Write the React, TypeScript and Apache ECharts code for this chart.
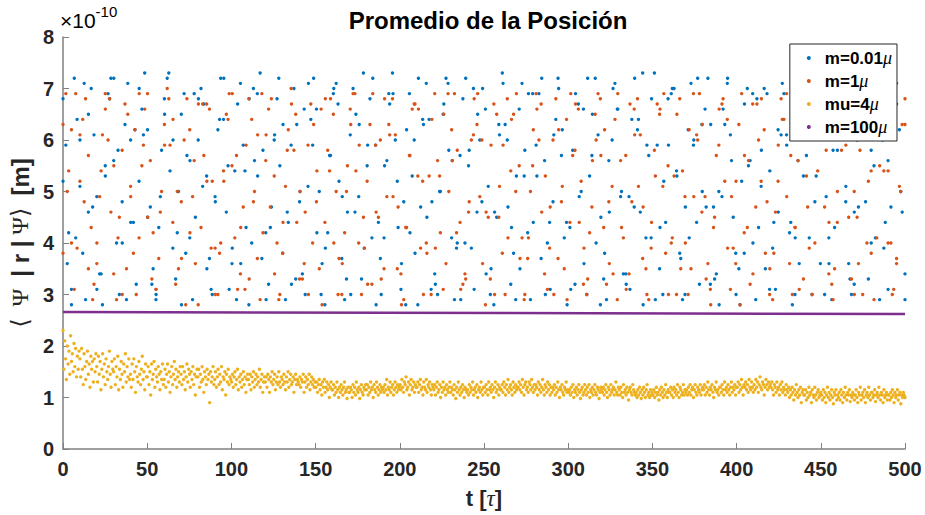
import React, { useEffect, useRef } from "react";
import * as echarts from "echarts";

const T_MAX = 500;
const X_TICKS = [0, 50, 100, 150, 200, 250, 300, 350, 400, 450, 500];
const Y_TICKS = [0, 1, 2, 3, 4, 5, 6, 7, 8];
const SERIES_NAMES = ["m=0.01μ", "m=1μ", "mu=4μ", "m=100μ"];
const COLORS = ["#0072BD", "#D95319", "#EDB120", "#7E2F8E"];

// values in units of 1e-10 m (two samplings per series, each spanning t = 0..500)
const blueVals = [
  6.8,5.9,4.2,3.1,7.2,6.4,5.1,3.8,2.9,4.6,7.0,6.1,4.9,3.4,2.8,5.5,6.9,7.2,5.6,4.0,
  3.0,4.8,6.3,7.1,6.0,4.4,3.2,5.2,6.6,7.3,6.2,4.7,3.5,2.9,4.3,5.8,6.8,7.2,5.4,3.9,
  3.3,5.0,6.5,6.9,5.7,4.1,2.9,4.5,6.0,7.0,6.7,5.3,3.7,3.0,4.9,6.2,7.2,6.4,4.6,3.1,
  3.6,5.4,6.7,7.1,5.9,4.3,2.8,4.0,5.6,6.9,7.3,5.8,4.2,3.2,4.7,6.0,6.8,5.5,3.8,2.9,
  4.4,5.9,7.0,6.3,4.8,3.4,3.0,5.1,6.4,7.2,6.6,5.0,3.6,2.8,4.2,5.7,6.9,7.1,5.2,3.7,
  2.9,4.6,6.1,7.0,6.5,4.9,3.3,3.9,5.5,6.8,7.2,5.9,4.4,3.0,4.1,5.6,6.7,7.3,6.0,4.3,
  3.1,4.8,6.2,6.9,5.3,3.8,2.8,4.7,6.3,7.1,6.4,4.8,3.4,3.0,5.0,6.5,7.2,5.8,4.1,2.9,
  4.0,5.7,6.8,7.2,5.5,3.9,3.1,4.6,6.0,7.0,6.6,5.1,3.5,2.8,4.5,6.1,7.3,6.3,4.7,3.2,
  3.8,5.3,6.6,7.1,5.8,4.2,2.9,4.4,5.9,6.9,7.2,5.6,4.0,3.1,4.8,6.4,7.0,5.7,4.1,2.8,
  4.3,5.8,6.9,6.7,5.0,3.6,3.0,5.3,6.5,7.2,6.1,4.5,3.3,2.9,4.6,6.0,7.1,6.6,4.9,3.4,
  3.2,4.9,6.4,7.2,6.2,4.6,2.8,4.1,5.7,6.8,7.3,5.9,4.3,3.0,4.4,5.9,6.9,7.0,5.3,3.8,
  2.9,4.7,6.2,7.1,6.0,4.4,3.2,5.0,6.6,7.2,6.3,4.7,3.4,2.8,4.9,6.3,7.2,6.1,4.5,3.0,
  3.5,5.2,6.7,7.0,5.6,4.0,2.9,4.3,5.8,7.0,6.9,5.4,3.9,3.1,4.6,6.1,6.9,5.9,4.2,2.8,
  4.1,5.6,6.8,7.2,5.7,4.1,3.0,4.8,6.2,7.1,6.5,4.9,3.6,2.9,4.3,5.8,7.0,6.7,5.1,3.6,
  3.0,4.6,6.0,6.9,6.4,4.8,3.3,4.0,5.5,6.7,7.2,6.0,4.4,3.1,4.7,6.2,7.1,6.2,4.6,2.9,
];

const blueVals2 = [
  5.2,3.6,2.8,4.1,6.0,7.1,6.5,4.7,3.1,3.4,5.3,6.8,7.2,5.8,4.0,2.9,4.4,6.2,7.0,6.1,
  4.5,3.2,3.0,4.9,6.5,7.3,6.0,4.2,2.8,3.8,5.6,6.9,6.8,5.1,3.5,3.1,4.8,6.4,7.2,5.5,
  3.9,2.9,3.6,5.4,6.8,7.0,5.3,3.7,2.9,4.3,6.1,7.2,6.3,4.6,3.2,3.3,5.0,6.6,7.1,5.9,
  4.2,3.0,3.9,5.7,7.0,6.7,4.9,3.3,3.0,4.6,6.3,7.3,5.9,4.1,2.8,3.7,5.5,6.9,6.9,5.2,
  3.6,2.8,4.2,6.0,7.2,6.4,4.5,3.1,3.2,5.0,6.7,7.1,5.6,3.9,2.9,4.0,5.8,7.0,6.5,4.8,
  3.4,3.0,4.6,6.3,7.1,6.0,4.3,2.9,3.5,5.3,6.9,6.9,5.3,3.7,3.0,4.4,6.1,7.2,6.2,4.4,
  3.1,3.2,4.9,6.6,7.2,5.7,4.0,2.8,3.8,5.6,7.0,6.6,5.0,3.4,3.1,4.7,6.4,7.3,5.9,4.1,
  2.9,3.5,5.2,6.8,7.0,5.4,3.7,3.0,4.1,5.9,7.2,6.3,4.7,3.2,3.3,5.0,6.6,7.1,5.6,3.8,
  2.8,3.8,5.5,6.9,6.8,5.1,3.5,3.1,4.4,6.2,7.1,6.1,4.4,3.0,3.6,5.3,6.8,6.9,5.3,3.6,
  3.0,4.1,5.8,7.1,6.5,4.8,3.3,3.2,4.7,6.4,7.2,5.8,4.1,2.9,3.9,5.6,7.0,6.7,5.0,3.4,
];

const orangeVals = [
  6.3,6.9,5.4,4.0,3.1,3.9,5.2,6.4,6.8,5.7,4.3,3.2,3.6,4.9,6.1,6.9,6.0,4.6,3.4,2.9,
  4.5,5.8,6.7,6.5,5.1,3.8,3.0,4.1,5.5,6.6,6.9,5.6,4.2,3.1,3.7,5.0,6.3,7.0,5.9,4.4,
  3.2,3.5,4.8,6.0,6.8,6.2,4.9,3.6,2.8,4.3,5.7,6.7,6.6,5.2,3.9,3.0,4.0,5.4,6.5,6.9,
  5.5,4.1,3.1,3.4,4.7,5.9,6.8,6.4,5.0,3.7,2.9,4.2,5.6,6.6,6.8,5.3,4.0,3.0,3.8,5.1,
  6.2,7.0,5.8,4.4,3.3,3.3,4.6,5.9,6.7,6.3,4.8,3.5,2.8,4.4,5.8,6.8,6.5,5.0,3.7,3.0,
  4.2,5.5,6.6,6.9,5.4,4.0,3.0,3.9,5.2,6.3,6.9,5.9,4.5,3.3,3.5,4.9,6.1,6.8,6.1,4.7,
  3.4,2.9,4.3,5.7,6.6,6.7,5.3,3.9,3.0,4.0,5.3,6.4,6.9,5.6,4.2,3.1,3.6,5.0,6.2,6.9,
  5.8,4.4,3.2,3.3,4.6,6.0,6.8,6.3,4.9,3.6,2.8,4.5,5.9,6.7,6.5,5.1,3.8,3.0,4.1,5.4,
  6.5,6.9,5.5,4.1,3.0,3.7,5.0,6.2,6.9,6.0,4.6,3.4,3.1,4.7,6.0,6.8,6.2,4.8,3.5,2.9,
  4.4,5.7,6.7,6.6,5.2,3.9,3.0,4.2,5.6,6.5,6.9,5.7,4.3,3.2,3.6,5.1,6.4,6.9,5.6,4.1,
  3.1,3.4,4.8,6.1,6.8,6.1,4.7,3.5,2.9,4.4,5.8,6.7,6.6,5.1,3.8,3.0,4.0,5.3,6.5,6.8,
  5.4,4.0,3.0,3.5,4.9,6.1,6.9,6.3,4.9,3.6,2.8,4.3,5.7,6.6,6.7,5.2,3.9,3.1,3.9,5.2,
  6.3,6.9,5.7,4.3,3.2,3.4,4.7,6.0,6.8,6.2,4.8,3.5,2.9,4.6,5.9,6.8,6.4,4.9,3.6,3.0,
  4.3,5.6,6.6,6.8,5.3,3.9,3.0,4.0,5.4,6.4,6.9,5.8,4.4,3.2,3.5,5.0,6.2,6.9,5.9,4.5,
  3.3,3.0,4.5,5.8,6.7,6.6,5.2,3.8,2.9,4.1,5.5,6.6,6.8,5.4,4.0,3.1,3.7,5.1,6.3,6.8,
];

const orangeVals2 = [
  3.8,5.0,6.2,6.9,6.1,4.8,3.5,2.9,4.0,5.4,6.6,6.8,5.5,4.1,3.0,3.5,4.9,6.2,6.9,5.9,
  4.5,3.3,3.1,4.6,5.9,6.8,6.4,5.0,3.7,2.8,4.2,5.6,6.7,6.7,5.2,3.9,3.0,3.8,5.2,6.4,
  6.9,5.7,4.3,3.1,3.3,4.8,6.1,6.9,6.1,4.7,3.4,2.9,4.4,5.8,6.7,6.5,5.0,3.6,3.0,4.0,
  5.4,6.6,6.8,5.4,4.0,3.0,3.6,5.0,6.3,6.9,5.9,4.5,3.2,3.2,4.6,6.0,6.8,6.3,4.9,3.5,
  2.8,4.3,5.7,6.7,6.6,5.2,3.8,3.0,3.9,5.3,6.5,6.9,5.6,4.2,3.1,3.4,4.8,6.1,6.9,6.0,
  4.6,3.3,3.0,4.5,5.9,6.8,6.4,5.0,3.7,2.9,4.1,5.5,6.6,6.7,5.3,3.9,3.0,3.7,5.1,6.4,
  6.9,5.8,4.4,3.2,3.3,4.7,6.0,6.8,6.2,4.8,3.4,2.9,4.3,5.7,6.7,6.6,5.1,3.7,3.0,3.9,
  5.3,6.5,6.9,5.5,4.1,3.0,3.5,4.9,6.2,6.9,6.0,4.6,3.3,3.1,4.5,5.9,6.8,6.4,4.9,3.6,
  2.8,4.2,5.6,6.7,6.7,5.2,3.8,3.0,3.8,5.2,6.4,6.9,5.7,4.3,3.1,3.3,4.7,6.1,6.9,6.1,
  4.7,3.4,2.9,4.4,5.8,6.7,6.5,5.0,3.6,3.0,4.0,5.4,6.6,6.8,5.4,4.0,3.0,3.6,5.0,6.3,
];

const yellowVals = [
  2.30,1.55,2.10,1.75,1.35,2.00,1.65,1.90,1.45,2.20,1.70,1.85,1.50,2.05,1.60,1.95,1.40,1.80,1.55,1.90,
  1.75,1.40,1.95,1.55,1.25,1.85,1.60,1.35,1.70,1.90,1.45,1.65,1.20,1.80,1.55,1.70,1.30,1.75,1.50,1.85,
  1.60,1.30,1.80,1.45,1.70,1.15,1.55,1.85,1.40,1.65,1.25,1.75,1.50,1.35,1.60,1.90,1.45,1.20,1.70,1.55,
  1.50,1.75,1.25,1.60,1.40,1.80,1.15,1.55,1.35,1.70,1.45,1.20,1.65,1.50,1.85,1.30,1.60,1.40,1.75,1.35,
  1.45,1.20,1.65,1.35,1.75,1.50,1.10,1.60,1.40,1.30,1.70,1.45,1.25,1.55,1.80,1.35,1.50,1.15,1.65,1.40,
  1.40,1.60,1.25,1.50,1.05,1.65,1.35,1.45,1.70,1.20,1.55,1.40,1.30,1.60,1.45,1.15,1.50,1.35,1.65,1.25,
  1.35,1.55,1.20,1.45,1.65,1.30,1.50,1.10,1.40,1.60,1.25,1.45,1.70,1.35,1.55,1.20,1.40,1.50,1.30,1.60,
  1.45,1.25,1.60,1.35,1.50,1.15,1.40,1.65,1.30,1.55,1.45,1.20,1.50,1.35,1.60,1.25,1.45,1.05,1.40,1.55,
  1.40,1.55,1.20,1.45,1.30,1.60,1.35,1.10,1.50,1.40,1.25,1.55,1.35,1.45,0.90,1.50,1.30,1.40,1.60,1.25,
  1.35,1.50,1.20,1.40,1.55,1.25,1.45,1.30,1.60,1.15,1.40,1.35,1.50,1.05,1.45,1.30,1.55,1.25,1.40,1.35,
  1.30,1.45,1.20,1.40,1.50,1.25,1.35,1.55,1.15,1.40,1.30,1.45,1.20,1.35,1.50,1.25,1.40,1.10,1.35,1.45,
  1.35,1.25,1.45,1.15,1.40,1.30,1.50,1.20,1.35,1.45,1.25,1.40,1.30,1.55,1.20,1.35,1.45,1.10,1.30,1.40,
  1.30,1.40,1.20,1.45,1.35,1.10,1.40,1.30,1.50,1.25,1.35,1.45,1.15,1.30,1.40,1.25,1.50,1.30,1.20,1.40,
  1.35,1.25,1.45,1.30,1.15,1.40,1.30,1.50,1.20,1.35,1.45,1.25,1.30,1.40,1.10,1.35,1.45,1.25,1.35,1.30,
  1.25,1.40,1.20,1.35,1.30,1.45,1.10,1.30,1.40,1.20,1.35,1.25,1.45,1.15,1.30,1.40,1.25,1.35,1.20,1.30,
  1.20,1.30,1.10,1.25,1.35,1.15,1.25,1.05,1.30,1.20,1.35,1.10,1.20,1.30,1.15,1.25,1.00,1.20,1.30,1.15,
  1.15,1.25,1.05,1.20,1.10,1.30,1.15,1.00,1.20,1.10,1.25,1.15,1.05,1.20,1.30,1.10,1.15,0.98,1.20,1.10,
  1.10,1.20,1.15,1.00,1.25,1.10,1.20,1.05,1.30,1.15,1.10,1.20,0.98,1.15,1.25,1.10,1.05,1.20,1.15,1.25,
  1.15,1.25,1.05,1.20,1.10,1.30,1.15,1.20,1.00,1.25,1.15,1.10,1.30,1.20,1.05,1.15,1.25,1.10,1.20,1.15,
  1.20,1.10,1.25,1.15,1.35,1.05,1.20,1.15,1.30,1.10,1.20,1.25,1.05,1.15,1.30,1.20,1.10,1.25,1.15,1.20,
  1.25,1.15,1.35,1.20,1.10,1.30,1.25,1.40,1.15,1.20,1.30,1.05,1.25,1.35,1.15,1.20,1.30,1.10,1.25,1.20,
  1.20,1.30,1.10,1.25,1.35,1.15,1.20,1.05,1.30,1.20,1.15,1.35,1.10,1.25,1.20,1.30,1.15,1.05,1.25,1.20,
  1.15,1.25,1.05,1.20,1.30,1.10,1.15,1.25,1.00,1.20,1.10,1.30,1.15,1.20,1.05,1.25,1.15,1.10,1.20,1.30,
  1.10,1.20,1.15,1.05,1.25,1.15,0.98,1.20,1.10,1.30,1.15,1.05,1.20,1.10,1.25,1.15,1.00,1.20,1.15,1.10,
  1.15,1.05,1.25,1.10,1.20,1.15,1.30,1.05,1.15,1.20,1.10,1.25,1.00,1.15,1.20,1.10,1.30,1.15,1.05,1.20,
  1.20,1.10,1.25,1.15,1.05,1.30,1.15,1.20,1.10,1.25,1.15,1.00,1.20,1.30,1.10,1.15,1.25,1.05,1.20,1.15,
  1.15,1.25,1.10,1.30,1.20,1.05,1.25,1.15,1.35,1.10,1.20,1.25,1.15,1.05,1.30,1.20,1.10,1.25,1.15,1.20,
  1.20,1.30,1.15,1.25,1.10,1.35,1.20,1.05,1.25,1.30,1.15,1.20,1.10,1.30,1.25,1.15,1.35,1.20,1.10,1.25,
  1.15,1.25,1.20,1.05,1.30,1.15,1.25,1.10,1.20,1.35,1.15,1.05,1.25,1.20,1.10,1.30,1.15,1.25,1.05,1.20,
  1.10,1.20,1.15,1.25,1.05,1.20,1.10,1.30,1.15,1.00,1.20,1.15,1.25,1.10,1.05,1.20,1.15,1.30,1.10,1.15,
  1.10,1.15,1.05,1.20,1.10,1.25,1.00,1.15,1.10,1.20,1.05,1.15,1.25,1.10,0.98,1.15,1.20,1.05,1.10,1.25,
  1.15,1.05,1.20,1.10,1.25,1.00,1.15,1.10,1.20,1.05,1.15,1.25,1.10,1.05,1.20,1.15,0.98,1.10,1.20,1.15,
  1.10,1.20,1.05,1.15,1.25,1.10,1.00,1.20,1.15,1.05,1.25,1.10,1.15,1.20,1.05,1.15,1.30,1.10,1.05,1.20,
  1.15,1.05,1.20,1.10,1.00,1.25,1.10,1.15,1.05,1.20,1.10,0.95,1.15,1.20,1.10,1.05,1.25,1.15,1.10,1.05,
  1.10,1.00,1.15,1.05,1.20,1.10,0.98,1.15,1.05,1.20,1.10,1.00,1.15,1.25,1.05,1.10,1.00,1.15,1.05,1.10,
  1.05,1.15,1.00,1.10,1.20,1.05,1.10,0.95,1.15,1.05,1.20,1.10,1.00,1.15,1.05,1.25,1.10,1.00,1.15,1.10,
  1.10,1.20,1.05,1.15,1.00,1.20,1.10,1.15,1.05,1.25,1.10,1.00,1.20,1.15,1.05,1.10,1.25,1.05,1.15,1.10,
  1.15,1.05,1.20,1.10,1.25,1.05,1.15,1.20,1.00,1.15,1.25,1.10,1.05,1.20,1.15,1.10,1.25,1.05,1.15,1.20,
  1.15,1.25,1.05,1.20,1.10,1.30,1.15,1.05,1.20,1.15,1.25,1.10,1.00,1.20,1.15,1.30,1.10,1.15,1.05,1.20,
  1.20,1.10,1.25,1.15,1.05,1.30,1.15,1.20,1.10,1.25,1.15,1.05,1.20,1.30,1.10,1.20,1.15,1.25,1.05,1.20,
  1.20,1.30,1.10,1.25,1.15,1.35,1.20,1.05,1.25,1.20,1.30,1.15,1.25,1.10,1.35,1.20,1.15,1.30,1.20,1.10,
  1.25,1.15,1.35,1.20,1.30,1.10,1.25,1.40,1.20,1.15,1.30,1.25,1.05,1.20,1.35,1.25,1.15,1.30,1.20,1.25,
  1.20,1.30,1.15,1.05,1.25,1.20,1.10,1.30,1.15,1.20,1.05,1.25,1.15,1.30,1.10,1.20,1.15,1.05,1.25,1.15,
  1.10,1.20,1.00,1.15,1.05,1.20,1.10,0.95,1.15,1.05,1.25,1.10,1.00,1.15,1.05,1.20,0.90,1.10,1.15,1.05,
  1.05,1.15,0.95,1.10,1.00,1.20,1.05,1.10,0.90,1.15,1.05,1.00,1.20,1.05,0.95,1.10,1.15,1.00,1.05,1.10,
  1.05,0.95,1.15,1.00,1.10,0.90,1.05,1.20,1.00,1.10,0.95,1.05,1.15,1.00,0.88,1.10,1.05,1.15,0.95,1.05,
  1.00,1.10,0.95,1.15,1.05,0.90,1.10,1.00,1.20,1.05,0.95,1.10,1.05,1.15,0.92,1.05,1.00,1.10,1.05,0.95,
  1.05,1.15,1.00,0.90,1.10,1.05,1.20,0.95,1.05,1.10,1.00,1.15,0.90,1.05,1.10,1.00,1.20,1.05,0.95,1.10,
  1.10,1.00,1.05,1.15,0.92,1.05,1.10,1.00,1.20,1.05,0.95,1.10,1.05,0.90,1.15,1.00,1.05,1.10,0.95,1.05,
  1.05,0.95,1.10,1.00,1.15,1.05,0.90,1.10,1.00,1.05,1.15,0.95,1.05,1.10,0.88,1.05,1.00,1.10,1.05,1.00,
];

// m=100μ: nearly flat line, endpoints
const purpleT = [0, 500];
const purpleVals = [2.66, 2.62];

const toPairs = (vals: number[]) =>
  vals.map((v, i) => [(i * T_MAX) / (vals.length - 1), v]);

const FONT = "'Liberation Sans', Arial, Helvetica, sans-serif";
const SERIF = "'Liberation Serif', 'DejaVu Serif', serif";

export default function App() {
  const ref = useRef<HTMLDivElement>(null);
  useEffect(() => {
    if (!ref.current) return;
    const chart = echarts.init(ref.current, undefined, { renderer: "svg" });
    const groups = [
      [blueVals, blueVals2],
      [orangeVals, orangeVals2],
      [yellowVals],
    ];
    const scatterSeries = groups.map((arrs, k) => ({
      name: SERIES_NAMES[k],
      type: "scatter",
      data: arrs.flatMap((a) => toPairs(a)),
      symbol: "circle",
      symbolSize: 3.4,
      itemStyle: { color: COLORS[k], opacity: 1 },
      z: 2 + k,
    }));
    chart.setOption({
      animation: false,
      backgroundColor: "#ffffff",
      title: {
        text: "Promedio de la Posición",
        left: 483,
        top: 3,
        textAlign: "center",
        textStyle: { fontFamily: FONT, fontSize: 24, fontWeight: "bold", color: "#000" },
      },
      grid: { left: 62, right: 20, top: 37, bottom: 65, containLabel: false },
      legend: {
        orient: "vertical",
        right: 28,
        top: 44,
        data: SERIES_NAMES,
        backgroundColor: "#fff",
        borderColor: "#262626",
        borderWidth: 1,
        borderRadius: 0,
        padding: [5, 5, 5, 17],
        itemGap: 5,
        itemWidth: 4,
        itemHeight: 4,
        icon: "circle",
        formatter: (name: string) => `{t|${name.slice(0, -1)}}{m|μ}`,
        textStyle: {
          rich: {
            t: { fontFamily: FONT, fontSize: 17, fontWeight: "bold", color: "#000", padding: [0, 0, 0, 9], lineHeight: 19 },
            m: { fontFamily: SERIF, fontSize: 18, fontStyle: "italic", color: "#000", lineHeight: 19 },
          },
        },
      },
      xAxis: {
        type: "value",
        min: 0,
        max: 500,
        interval: 50,
        name: "{b|t [}{s|τ}{b|]}",
        nameLocation: "middle",
        nameGap: 38,
        nameTextStyle: {
          rich: {
            b: { fontFamily: FONT, fontSize: 22, fontWeight: "bold", color: "#262626" },
            s: { fontFamily: SERIF, fontSize: 23, fontStyle: "italic", color: "#262626" },
          },
        },
        axisLine: { show: true, onZero: false, lineStyle: { color: "#808080", width: 1.5 } },
        axisTick: { show: true, inside: true, length: 6, lineStyle: { color: "#808080" } },
        axisLabel: {
          fontFamily: FONT,
          fontSize: 20,
          fontWeight: "bold",
          color: "#262626",
          margin: 10,
          formatter: (v: number) => (X_TICKS.includes(v) ? String(v) : ""),
        },
        splitLine: { show: false },
      },
      yAxis: {
        type: "value",
        min: 0,
        max: 8,
        interval: 1,
        name: "{s|⟨  Ψ  }{b|| r |}{s| Ψ⟩  }{b|[m]}",
        nameLocation: "middle",
        nameRotate: 90,
        nameGap: 29,
        nameTextStyle: {
          rich: {
            b: { fontFamily: FONT, fontSize: 24, fontWeight: "bold", color: "#262626" },
            s: { fontFamily: SERIF, fontSize: 24, color: "#262626" },
          },
        },
        axisLine: { show: true, onZero: false, lineStyle: { color: "#808080", width: 1.5 } },
        axisTick: { show: true, inside: true, length: 6, lineStyle: { color: "#808080" } },
        axisLabel: {
          fontFamily: FONT,
          fontSize: 20,
          fontWeight: "bold",
          color: "#262626",
          margin: 9,
          formatter: (v: number) => (Y_TICKS.includes(v) ? String(v) : ""),
        },
        splitLine: { show: false },
      },
      graphic: [
        {
          type: "text",
          left: 60,
          top: 4,
          style: {
            text: "{a|×10}{s|-10}",
            rich: {
              a: { fontFamily: FONT, fontSize: 21, color: "#262626", verticalAlign: "bottom" },
              s: { fontFamily: FONT, fontSize: 15, color: "#262626", padding: [0, 0, 12, 0] },
            },
          },
        },
      ],
      series: [
        ...scatterSeries,
        {
          name: SERIES_NAMES[3],
          type: "line",
          data: purpleT.map((t, i) => [t, purpleVals[i]]),
          showSymbol: false,
          symbol: "circle",
          lineStyle: { color: COLORS[3], width: 2.5 },
          itemStyle: { color: COLORS[3] },
          z: 6,
        },
      ],
    });
    return () => chart.dispose();
  }, []);
  return <div ref={ref} style={{ width: 925, height: 515, position: "absolute", left: 0, top: 0 }} />;
}
